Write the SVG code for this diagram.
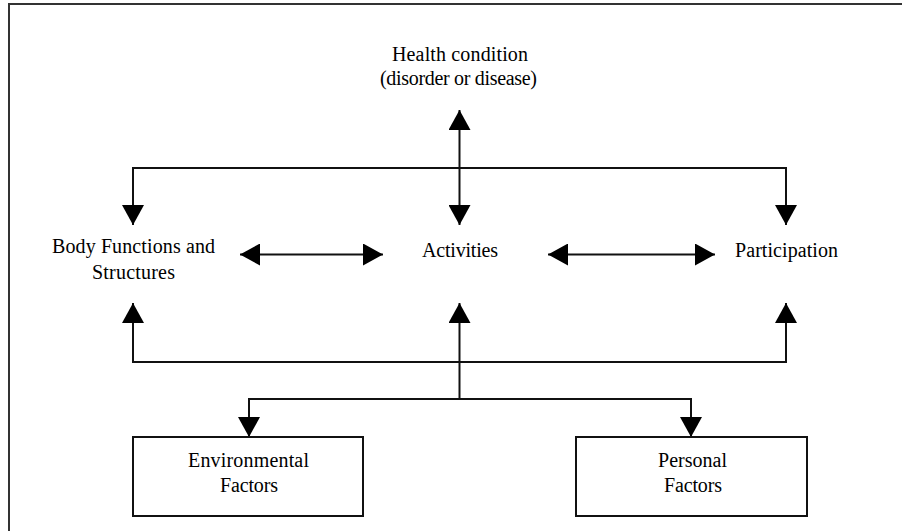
<svg xmlns="http://www.w3.org/2000/svg" width="902" height="531" viewBox="0 0 902 531">
  <defs>
    <style>
      .lbl { font-family: "Liberation Serif", "DejaVu Serif", serif; font-size: 20px; fill: #000; text-anchor: middle; }
      .box { fill: #fff; stroke: #111; stroke-width: 2; }
      .con { fill: none; stroke: #111; stroke-width: 2; }
      .frame { fill: none; stroke: #333; stroke-width: 2; }
    </style>
    <marker id="ah" viewBox="0 0 20 22" refX="20" refY="11" markerWidth="20" markerHeight="22" markerUnits="userSpaceOnUse" orient="auto-start-reverse">
      <path d="M0,0 L20,11 L0,22 z" fill="#000"/>
    </marker>
  </defs>
  <rect width="902" height="531" fill="#fff"/>
  <path class="frame" d="M9,531 V4 H902"/>

  <g id="connectors">
    <line class="con" x1="459.5" y1="110" x2="459.5" y2="225" marker-start="url(#ah)" marker-end="url(#ah)"/>
    <polyline class="con" points="133,225 133,168 786,168 786,225" marker-start="url(#ah)" marker-end="url(#ah)"/>
    <line class="con" x1="240" y1="254.5" x2="383" y2="254.5" marker-start="url(#ah)" marker-end="url(#ah)"/>
    <line class="con" x1="548" y1="254.5" x2="715" y2="254.5" marker-start="url(#ah)" marker-end="url(#ah)"/>
    <polyline class="con" points="133,303 133,362 786,362 786,303" marker-start="url(#ah)" marker-end="url(#ah)"/>
    <line class="con" x1="459.5" y1="399" x2="459.5" y2="303" marker-end="url(#ah)"/>
    <polyline class="con" points="249,437 249,399 691,399 691,437" marker-start="url(#ah)" marker-end="url(#ah)"/>
  </g>

  <g id="health">
    <text class="lbl" x="460" y="61" textLength="136">Health condition</text>
    <text class="lbl" x="458.5" y="85" textLength="157">(disorder or disease)</text>
  </g>
  <g id="body">
    <text class="lbl" x="133.5" y="253" textLength="163">Body Functions and</text>
    <text class="lbl" x="133.5" y="279" textLength="83">Structures</text>
  </g>
  <g id="activities">
    <text class="lbl" x="460" y="257" textLength="76">Activities</text>
  </g>
  <g id="participation">
    <text class="lbl" x="786.5" y="257" textLength="103">Participation</text>
  </g>
  <g id="environmental">
    <rect class="box" x="133" y="437" width="230" height="79"/>
    <text class="lbl" x="248.5" y="467" textLength="121">Environmental</text>
    <text class="lbl" x="249" y="492" textLength="58">Factors</text>
  </g>
  <g id="personal">
    <rect class="box" x="576" y="437" width="231" height="79"/>
    <text class="lbl" x="692.5" y="467" textLength="69">Personal</text>
    <text class="lbl" x="693" y="492" textLength="58">Factors</text>
  </g>
</svg>
